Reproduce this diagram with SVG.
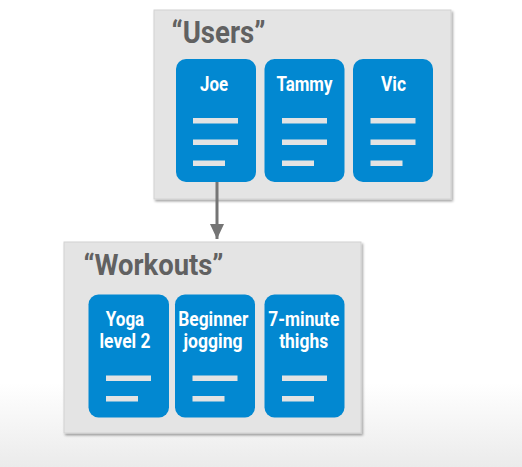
<svg xmlns="http://www.w3.org/2000/svg" width="522" height="467" viewBox="0 0 522 467">
  <defs>
    <linearGradient id="floor" x1="0" y1="0" x2="0" y2="1">
      <stop offset="0" stop-color="#ffffff"/>
      <stop offset="0.82" stop-color="#ffffff"/>
      <stop offset="1" stop-color="#ebebeb"/>
    </linearGradient>
    <filter id="shadow" x="-5%" y="-5%" width="112%" height="112%">
      <feDropShadow dx="1.5" dy="2" stdDeviation="1.2" flood-color="#000" flood-opacity="0.35"/>
    </filter>
    <marker id="arrow" viewBox="0 0 15 14" refX="15" refY="7" markerWidth="15" markerHeight="14" markerUnits="userSpaceOnUse" orient="auto">
      <path d="M0,0 L15,7 L0,14 Z" fill="#757575"/>
    </marker>
  </defs>
  <style>
    .panel { fill: #e4e4e4; stroke: #d2d2d2; stroke-width: 1; }
    .card { fill: #0288d1; }
    .bar { fill: #e3e3e3; }
    .title { font-family: Roboto, "Liberation Sans", sans-serif; font-weight: bold; fill: #616161; }
    .label { font-family: Roboto, "Liberation Sans", sans-serif; font-weight: bold; font-size: 20px; fill: #ffffff; text-anchor: middle; }
    .link { stroke: #757575; stroke-width: 3; fill: none; }
  </style>

  <rect x="0" y="0" width="522" height="467" fill="url(#floor)"/>

  <!-- Users collection -->
  <g id="users">
    <rect class="panel" x="154" y="10" width="297" height="189" filter="url(#shadow)"/>
    <text class="title" x="171.5" y="42.5" font-size="31" textLength="94" lengthAdjust="spacingAndGlyphs">“Users”</text>
  </g>
  <g id="user-joe">
    <rect class="card" x="176" y="59" width="80" height="123" rx="10"/>
    <text class="label" x="214" y="90.5" textLength="28" lengthAdjust="spacingAndGlyphs">Joe</text>
    <rect class="bar" x="193" y="118" width="45" height="5.5"/>
    <rect class="bar" x="193" y="139.5" width="45" height="5.5"/>
    <rect class="bar" x="193" y="160.5" width="32" height="5.5"/>
  </g>
  <g id="user-tammy">
    <rect class="card" x="264.5" y="59" width="80" height="123" rx="10"/>
    <text class="label" x="304.5" y="90.5" textLength="56" lengthAdjust="spacingAndGlyphs">Tammy</text>
    <rect class="bar" x="282" y="118" width="45" height="5.5"/>
    <rect class="bar" x="282" y="139.5" width="45" height="5.5"/>
    <rect class="bar" x="282" y="160.5" width="32" height="5.5"/>
  </g>
  <g id="user-vic">
    <rect class="card" x="353" y="59" width="80" height="123" rx="10"/>
    <text class="label" x="393.5" y="90.5" textLength="25" lengthAdjust="spacingAndGlyphs">Vic</text>
    <rect class="bar" x="370.5" y="118" width="45" height="5.5"/>
    <rect class="bar" x="370.5" y="139.5" width="45" height="5.5"/>
    <rect class="bar" x="370.5" y="160.5" width="32" height="5.5"/>
  </g>

  <!-- Workouts collection -->
  <g id="workouts">
    <rect class="panel" x="64" y="242" width="297" height="191" filter="url(#shadow)"/>
    <text class="title" x="83.5" y="275" font-size="30" textLength="140" lengthAdjust="spacingAndGlyphs">“Workouts”</text>
  </g>
  <g id="workout-yoga">
    <rect class="card" x="88.5" y="294.5" width="80.5" height="123" rx="10"/>
    <text class="label" x="125" y="326" textLength="38.5" lengthAdjust="spacingAndGlyphs">Yoga</text>
    <text class="label" x="125" y="348" textLength="51" lengthAdjust="spacingAndGlyphs">level 2</text>
    <rect class="bar" x="106" y="375.5" width="45" height="5.5"/>
    <rect class="bar" x="106" y="396" width="32" height="5.5"/>
  </g>
  <g id="workout-jogging">
    <rect class="card" x="175" y="294.5" width="80" height="123" rx="10"/>
    <text class="label" x="213.3" y="326" textLength="70" lengthAdjust="spacingAndGlyphs">Beginner</text>
    <text class="label" x="213" y="348" textLength="59" lengthAdjust="spacingAndGlyphs">jogging</text>
    <rect class="bar" x="192.5" y="375.5" width="45" height="5.5"/>
    <rect class="bar" x="192.5" y="396" width="32" height="5.5"/>
  </g>
  <g id="workout-thighs">
    <rect class="card" x="264.5" y="294.5" width="80" height="123" rx="10"/>
    <text class="label" x="303.8" y="326" textLength="71" lengthAdjust="spacingAndGlyphs">7-minute</text>
    <text class="label" x="303.7" y="348" textLength="49" lengthAdjust="spacingAndGlyphs">thighs</text>
    <rect class="bar" x="282" y="375.5" width="45" height="5.5"/>
    <rect class="bar" x="282" y="396" width="32" height="5.5"/>
  </g>

  <!-- Connectors -->
  <g id="connectors">
    <line class="link" x1="217" y1="182" x2="217" y2="239" marker-end="url(#arrow)"/>
  </g>
</svg>
